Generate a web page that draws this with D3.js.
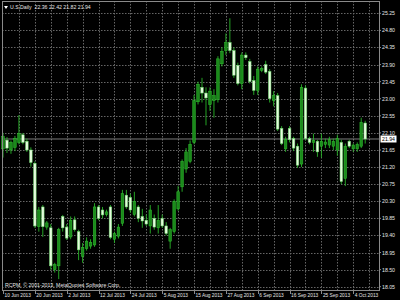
<!DOCTYPE html>
<html>
<head>
<meta charset="utf-8">
<script src="https://cdn.jsdelivr.net/npm/d3@7"></script>
<style>
  html, body { margin: 0; padding: 0; background: #000; }
  svg { display: block; font-family: "Liberation Sans", Arial, sans-serif; }
</style>
</head>
<body>
<svg id="chart" width="400" height="300"></svg>
<script>
// daily OHLC
const opens = [21.68, 21.91, 21.65, 21.72, 21.85, 22.05, 21.88, 21.65, 21.30, 19.63,
  20.15, 19.62, 19.60, 18.50, 18.60, 19.90, 19.62, 19.36, 19.81, 19.50,
  18.85, 19.05, 19.12, 19.15, 20.15, 20.07, 19.95, 20.15, 19.30, 19.38,
  19.72, 20.46, 20.40, 19.95, 20.15, 19.90, 19.80, 19.65, 19.85, 19.60,
  19.85, 19.65, 19.25, 19.50, 20.10, 20.68, 21.15, 21.35, 21.85, 22.92,
  23.30, 23.15, 22.85, 22.95, 22.98, 23.92, 24.27, 24.48, 24.27, 23.88,
  23.40, 24.15, 23.98, 23.48, 23.22, 23.75, 23.90, 23.72, 22.95, 23.08,
  22.22, 21.68, 22.22, 21.95, 21.75, 21.28, 23.28, 21.95, 21.85, 21.88,
  21.75, 21.80, 21.78, 21.75, 21.65, 21.85, 20.90, 21.88, 21.68, 21.68,
  21.75, 22.36];
const highs = [22.10, 21.99, 21.90, 22.02, 22.57, 22.10, 21.95, 21.72, 21.35, 20.15,
  20.20, 19.78, 19.70, 18.68, 19.60, 19.94, 19.70, 19.90, 19.90, 19.55,
  19.20, 19.35, 19.30, 20.25, 20.20, 20.15, 20.08, 20.20, 19.50, 19.70,
  20.60, 20.60, 20.50, 20.55, 20.20, 20.10, 19.95, 20.20, 19.95, 20.20,
  19.95, 19.75, 19.60, 20.35, 20.70, 21.40, 21.70, 21.90, 23.10, 23.45,
  23.55, 23.30, 23.30, 23.25, 24.12, 24.35, 24.72, 25.12, 24.35, 23.95,
  24.22, 24.22, 24.05, 23.60, 23.85, 23.85, 24.00, 23.78, 23.20, 23.15,
  22.28, 22.00, 22.28, 22.00, 21.82, 23.38, 23.35, 22.00, 22.08, 21.92,
  22.08, 21.95, 22.00, 21.95, 22.05, 21.92, 21.82, 21.92, 21.82, 21.85,
  22.50, 22.42];
const lows = [21.45, 21.57, 21.55, 21.62, 21.80, 21.80, 21.60, 21.21, 19.60, 19.50,
  19.36, 19.55, 18.50, 18.42, 18.25, 19.50, 19.28, 19.30, 19.50, 18.75,
  18.68, 19.00, 19.05, 19.10, 19.80, 19.85, 19.90, 19.30, 19.20, 19.32,
  19.65, 20.10, 20.00, 19.90, 19.75, 19.60, 19.65, 19.45, 19.55, 19.45,
  19.60, 19.40, 19.05, 19.45, 20.05, 20.55, 21.05, 21.30, 21.80, 22.85,
  22.90, 22.30, 22.68, 22.50, 22.90, 23.85, 24.15, 24.20, 23.55, 23.35,
  23.25, 24.02, 23.40, 23.10, 23.10, 23.70, 23.65, 22.90, 22.80, 22.15,
  21.78, 21.60, 21.85, 21.62, 21.18, 21.20, 21.90, 21.80, 21.60, 21.47,
  21.45, 21.70, 21.70, 21.65, 21.50, 20.75, 20.70, 21.70, 21.60, 21.60,
  21.70, 21.82];
const closes = [22.00, 21.70, 21.85, 21.95, 22.08, 21.85, 21.65, 21.32, 19.65, 20.07,
  19.63, 19.73, 18.60, 18.63, 19.55, 19.60, 19.33, 19.80, 19.55, 19.02,
  19.08, 19.25, 19.22, 20.15, 19.85, 19.94, 20.02, 19.35, 19.45, 19.62,
  20.50, 20.15, 20.07, 20.30, 19.85, 19.78, 19.70, 20.07, 19.62, 19.80,
  19.65, 19.45, 19.55, 20.30, 20.55, 21.35, 21.60, 21.80, 22.95, 23.38,
  23.15, 23.02, 23.20, 23.08, 24.05, 24.25, 24.48, 24.27, 23.62, 23.40,
  24.15, 24.08, 23.45, 23.22, 23.78, 23.80, 23.70, 23.00, 23.08, 22.20,
  21.82, 21.92, 21.92, 21.70, 21.25, 23.30, 21.95, 21.85, 21.90, 21.60,
  21.88, 21.86, 21.92, 21.88, 21.95, 20.82, 21.75, 21.75, 21.78, 21.80,
  22.38, 21.94];

const dateLabels = ['10 Jun 2013', '20 Jun 2013', '2 Jul 2013', '12 Jul 2013',
  '24 Jul 2013', '5 Aug 2013', '15 Aug 2013', '27 Aug 2013', '6 Sep 2013',
  '16 Sep 2013', '25 Sep 2013', '4 Oct 2013'];
const priceTicks = [25.25, 24.80, 24.35, 23.90, 23.45, 23.00, 22.55, 22.10,
  21.65, 21.20, 20.75, 20.30, 19.85, 19.40, 18.95, 18.50, 18.05];
const lastPrice = 21.94;
const title = 'U.S,Daily  22.36 22.42 21.82 21.94';
const copyright = 'RCPM, \u00a9 2001-2013, MetaQuotes Software Corp.';

const bars = opens.map((o, i) => ({ i, o, h: highs[i], l: lows[i], c: closes[i] }));

const svg = d3.select('#chart');
const frame = { left: 2, top: 1, right: 379, bottom: 290 };

const x = d3.scaleLinear().domain([0, bars.length - 1]).range([3, 365.2]);
const y = d3.scaleLinear().domain([18.05, 25.25]).range([286.7, 13.3]);

const gridColor = '#666';
const frameColor = '#8a8a8a';
const textColor = '#e6e6e6';

// grid
svg.append('g')
  .selectAll('line')
  .data(priceTicks)
  .enter()
  .append('line')
  .attr('x1', frame.left)
  .attr('x2', frame.right)
  .attr('y1', d => Math.round(y(d)) + 0.5)
  .attr('y2', d => Math.round(y(d)) + 0.5)
  .attr('stroke', gridColor)
  .attr('stroke-dasharray', '1.5,1.5');

const gridIdx = d3.range(4, bars.length + 2, 4);
svg.append('g')
  .selectAll('line')
  .data(gridIdx)
  .enter()
  .append('line')
  .attr('x1', d => Math.round(x(d)) + 0.5)
  .attr('x2', d => Math.round(x(d)) + 0.5)
  .attr('y1', frame.top)
  .attr('y2', frame.bottom)
  .attr('stroke', gridColor)
  .attr('stroke-dasharray', '1.5,1.5');

// bid line
svg.append('line')
  .attr('x1', frame.left)
  .attr('x2', frame.right)
  .attr('y1', y(lastPrice))
  .attr('y2', y(lastPrice))
  .attr('stroke', '#9a9a9a')
  .attr('stroke-width', 0.8);

// candles
const candle = svg.append('g')
  .selectAll('g')
  .data(bars)
  .enter()
  .append('g');

candle.append('line')
  .attr('x1', d => x(d.i))
  .attr('x2', d => x(d.i))
  .attr('y1', d => y(d.h))
  .attr('y2', d => y(d.l))
  .attr('stroke', '#28b428')
  .attr('stroke-width', 0.9);

const bodyW = 2.6;
candle.append('rect')
  .attr('x', d => x(d.i) - bodyW / 2)
  .attr('width', bodyW)
  .attr('y', d => y(Math.max(d.o, d.c)))
  .attr('height', d => Math.max(0.8, Math.abs(y(d.o) - y(d.c))))
  .attr('fill', d => (d.c >= d.o ? '#1b8a1b' : '#e4fbdc'))
  .attr('stroke', d => (d.c >= d.o ? '#30c030' : '#6ad46a'))
  .attr('stroke-width', 0.5);

// frame
svg.append('rect')
  .attr('x', frame.left + 0.5)
  .attr('y', frame.top + 0.5)
  .attr('width', frame.right - frame.left)
  .attr('height', frame.bottom - frame.top)
  .attr('fill', 'none')
  .attr('stroke', frameColor)
  .attr('stroke-width', 1);

// price axis
const priceAxis = svg.append('g');
priceAxis.selectAll('line')
  .data(priceTicks)
  .enter()
  .append('line')
  .attr('x1', frame.right)
  .attr('x2', frame.right + 2)
  .attr('y1', d => y(d))
  .attr('y2', d => y(d))
  .attr('stroke', frameColor);

priceAxis.selectAll('text')
  .data(priceTicks)
  .enter()
  .append('text')
  .attr('x', 382)
  .attr('y', d => y(d) + 2)
  .attr('fill', textColor)
  .attr('font-size', 5.2)
  .text(d => d.toFixed(2));

// last price box
svg.append('rect')
  .attr('x', 380.5)
  .attr('y', y(lastPrice) - 3.5)
  .attr('width', 16)
  .attr('height', 7)
  .attr('fill', '#fff');
svg.append('text')
  .attr('x', 382)
  .attr('y', y(lastPrice) + 2)
  .attr('fill', '#000')
  .attr('font-size', 5.2)
  .text(lastPrice.toFixed(2));

// time axis
const timeAxis = svg.append('g');
timeAxis.selectAll('line')
  .data(dateLabels)
  .enter()
  .append('line')
  .attr('x1', (d, i) => Math.round(x(i * 8)) + 0.5)
  .attr('x2', (d, i) => Math.round(x(i * 8)) + 0.5)
  .attr('y1', frame.bottom)
  .attr('y2', frame.bottom + 4)
  .attr('stroke', frameColor);

timeAxis.selectAll('text')
  .data(dateLabels)
  .enter()
  .append('text')
  .attr('x', (d, i) => x(i * 8) + 1.5)
  .attr('y', 297)
  .attr('fill', textColor)
  .attr('font-size', 4.8)
  .text(d => d);

// header and footer
svg.append('path')
  .attr('d', 'M4,6 L8,6 L6,9 Z')
  .attr('fill', '#fff');
svg.append('text')
  .attr('x', 10)
  .attr('y', 9)
  .attr('fill', textColor)
  .attr('font-size', 5.2)
  .attr('xml:space', 'preserve')
  .text(title);

svg.append('text')
  .attr('x', 5)
  .attr('y', 287)
  .attr('fill', textColor)
  .attr('font-size', 5.2)
  .text(copyright);
</script>
</body>
</html>
